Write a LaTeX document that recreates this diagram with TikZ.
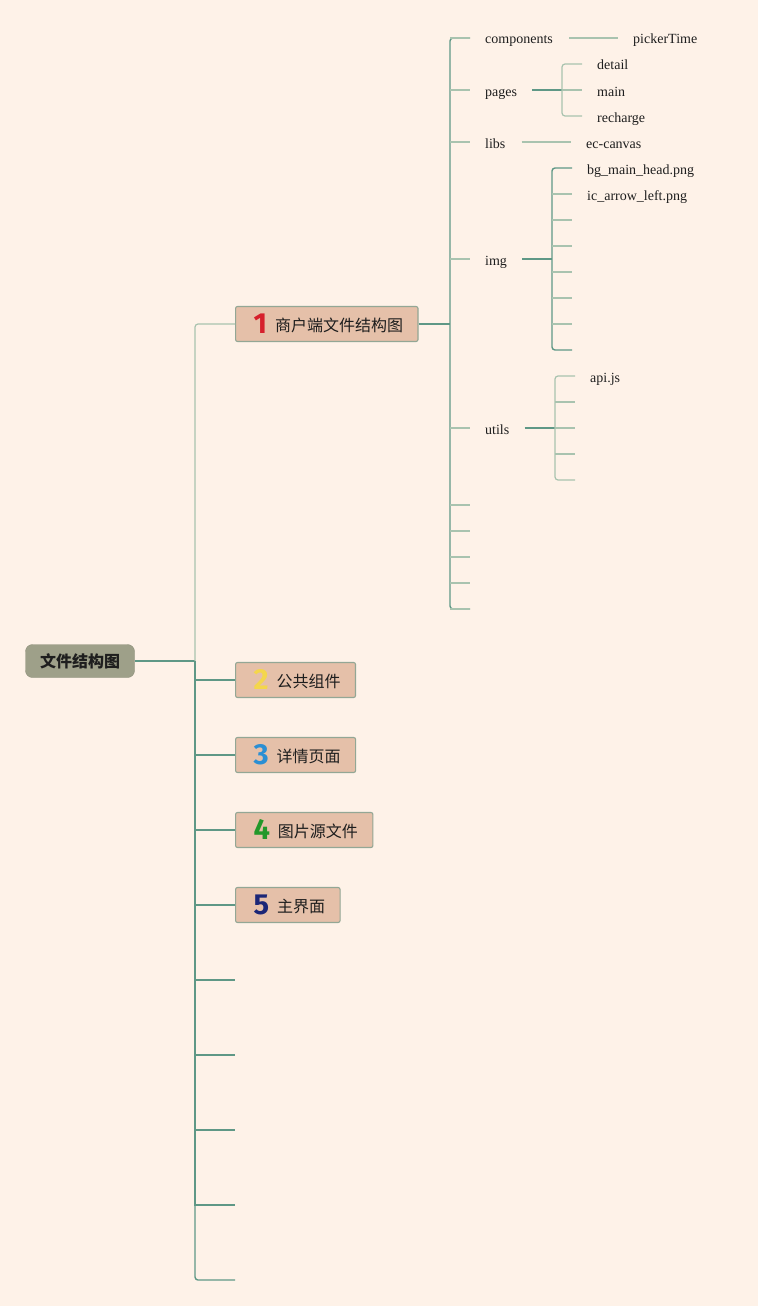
\documentclass[tikz,border=0pt]{standalone}
\usepackage{fontspec}
\setmainfont{Liberation Serif}
\newfontfamily\cjk{Noto Sans CJK SC}
\newfontfamily\numfont{Fira Sans}
\usetikzlibrary{positioning,calc}
\definecolor{pageBg}{HTML}{FEF2E8}
\definecolor{rootFill}{HTML}{9EA089}
\definecolor{topicFill}{HTML}{E5C0A9}
\definecolor{topicLine}{HTML}{93A795}
\definecolor{stemDark}{HTML}{5F9886}
\definecolor{stemLight}{HTML}{A9C3AF}
\definecolor{inkDark}{HTML}{1E1E1E}
\definecolor{numRed}{HTML}{D6202C}
\definecolor{numYellow}{HTML}{F4D64C}
\definecolor{numBlue}{HTML}{2B8FD4}
\definecolor{numGreen}{HTML}{23982A}
\definecolor{numNavy}{HTML}{1B2677}
\newcommand{\topicnum}[2]{\hspace{3pt}\raisebox{-2pt}[14pt][0pt]{\numfont\bfseries\fontsize{29}{29}\selectfont\color{#1}#2}\hspace{8pt}}
\tikzset{
    rootbox/.style={fill=rootFill,draw=rootFill!90!black,rounded corners=7pt,
        minimum width=109pt,minimum height=33pt,inner sep=0pt,
        text=inkDark,font=\cjk\bfseries\fontsize{16}{19}\selectfont},
    topic/.style={fill=topicFill,draw=topicLine,line width=1.1pt,rounded corners=2pt,
        anchor=west,minimum height=35pt,inner xsep=15pt,inner ysep=0pt,
        text height=15pt,text depth=1pt,
        text=inkDark,font=\cjk\fontsize{16}{19}\selectfont},
    leaf/.style={anchor=west,inner sep=0pt,text height=12pt,text depth=0pt,
        text=inkDark,font=\fontsize{14}{16}\selectfont},
    stem/.style={draw=stemDark,line width=1.4pt},
    limb/.style={draw=stemLight,line width=1.2pt},
    elbow/.style={rounded corners=3pt}
}
\begin{document}
\begin{tikzpicture}[x=1pt,y=-1pt]
    \fill[pageBg] (0,0) rectangle (758,1306);
    \useasboundingbox (0,0) rectangle (758,1306);

    \node[rootbox] (root) at (80,661) {文件结构图};
    \node[topic] (t1) at (235,324) {\topicnum{numRed}{1}商户端文件结构图};
    \node[topic] (t2) at (235,680) {\topicnum{numYellow}{2}公共组件};
    \node[topic] (t3) at (235,755) {\topicnum{numBlue}{3}详情页面};
    \node[topic] (t4) at (235,830) {\topicnum{numGreen}{4}图片源文件};
    \node[topic] (t5) at (235,905) {\topicnum{numNavy}{5}主界面};
    \foreach \y in {980,1055,1130,1205,1280}
        \coordinate (end\y) at (235,\y);

    \coordinate (hub) at (195,661);
    \draw[stem] (root.east) -- (hub);
    \draw[limb,elbow] (t1.west) -| (hub);
    \draw[stem,elbow] (hub) |- (end1280);
    \foreach \n in {t2,t3,t4,t5}
        \draw[stem] (hub) |- (\n.west);
    \foreach \y in {980,1055,1130,1205}
        \draw[stem] (hub) |- (end\y);

    \node[leaf] (comp) at (485,38) {components};
    \node[leaf] (pages) at (485,90) {pages};
    \node[leaf] (libs) at (485,142) {libs};
    \node[leaf] (img) at (485,259) {img};
    \node[leaf] (utils) at (485,428) {utils};
    \foreach \y in {505,531,557,583,609}
        \coordinate (tail\y) at (470,\y);

    \coordinate (hubA) at (450,324);
    \draw[stem] (t1.east) -- (hubA);
    \draw[stem,elbow] ([xshift=-15pt]comp.west) -| (hubA) |- (tail609);
    \foreach \n in {comp,pages,libs,img,utils}
        \draw[limb] (\n.west -| hubA) -- ([xshift=-15pt]\n.west);
    \foreach \y in {505,531,557,583,609}
        \draw[limb] (tail\y -| hubA) -- (tail\y);

    \node[leaf] (picker) at (633,38) {pickerTime};
    \draw[limb] ([xshift=16pt]comp.east) -- ([xshift=-15pt]picker.west);

    \node[leaf] (detail) at (597,64) {detail};
    \node[leaf] (mainpg) at (597,90) {main};
    \node[leaf] (recharge) at (597,116) {recharge};
    \coordinate (hubP) at (562,90);
    \draw[stem] ([xshift=15pt]pages.east) -- (hubP);
    \draw[limb,elbow] ([xshift=-15pt]detail.west) -| (hubP) |- ([xshift=-15pt]recharge.west);
    \draw[limb] (hubP) -- ([xshift=-15pt]mainpg.west);

    \node[leaf] (eccanvas) at (586,142) {ec-canvas};
    \draw[limb] ([xshift=16pt]libs.east) -- ([xshift=-15pt]eccanvas.west);

    \node[leaf] (bghead) at (587,168) {bg\_main\_head.png};
    \node[leaf] (icarrow) at (587,194) {ic\_arrow\_left.png};
    \foreach \y in {220,246,272,298,324,350}
        \coordinate (imgend\y) at (572,\y);
    \coordinate (hubI) at (552,259);
    \draw[stem] ([xshift=15pt]img.east) -- (hubI);
    \draw[stem,elbow] ([xshift=-15pt]bghead.west) -| (hubI) |- (imgend350);
    \draw[limb] (icarrow.west -| hubI) -- ([xshift=-15pt]icarrow.west);
    \foreach \y in {220,246,272,298,324}
        \draw[limb] (imgend\y -| hubI) -- (imgend\y);

    \node[leaf] (apijs) at (590,376) {api.js};
    \foreach \y in {402,428,454,480}
        \coordinate (utilend\y) at (575,\y);
    \coordinate (hubU) at (555,428);
    \draw[stem] ([xshift=15pt]utils.east) -- (hubU);
    \draw[limb,elbow] ([xshift=-15pt]apijs.west) -| (hubU) |- (utilend480);
    \foreach \y in {402,428,454}
        \draw[limb] (utilend\y -| hubU) -- (utilend\y);
\end{tikzpicture}
\end{document}
